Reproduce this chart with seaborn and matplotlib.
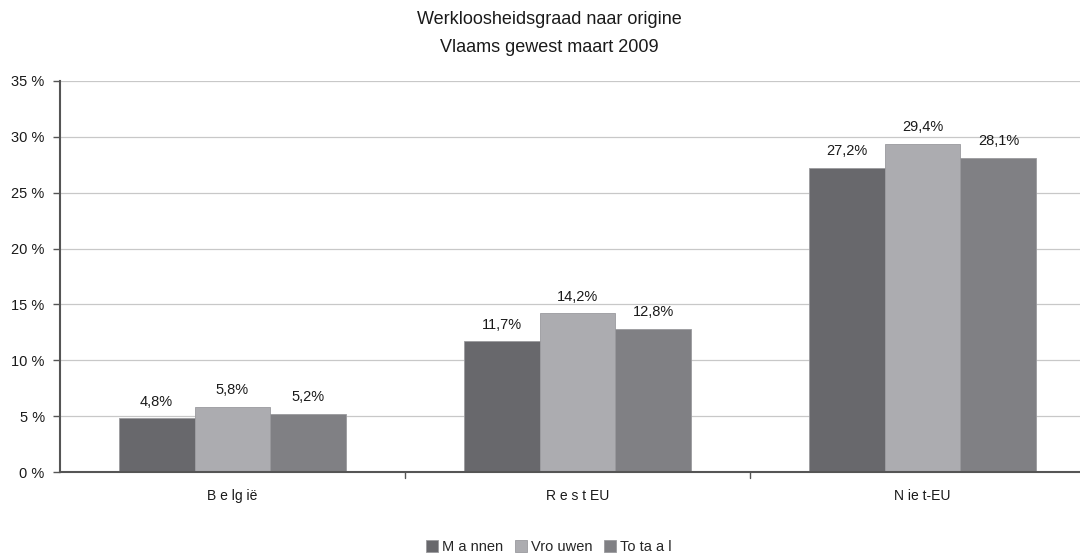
import matplotlib
matplotlib.use("Agg")
import matplotlib.pyplot as plt
import seaborn as sns
import pandas as pd

categories = ["België", "Rest EU", "Niet-EU"]
series = ["Mannen", "Vrouwen", "Totaal"]
mannen = [4.8, 11.7, 27.2]
vrouwen = [5.8, 14.2, 29.4]
totaal = [5.2, 12.8, 28.1]
yticks = [0, 5, 10, 15, 20, 25, 30, 35]

rows = []
for name, vals in zip(series, [mannen, vrouwen, totaal]):
    for c, v in zip(categories, vals):
        rows.append({"cat": c, "serie": name, "val": v})
df = pd.DataFrame(rows)

sns.set_theme(style="white")
plt.rcParams['font.family'] = ['Liberation Sans', 'DejaVu Sans']

fig = plt.figure(figsize=(10.8, 5.57), dpi=100)
ax = fig.add_axes([60/1080, 1 - 472/557, 1035/1080, (472 - 81)/557])

palette = {"Mannen": "#68686c", "Vrouwen": "#acacb0", "Totaal": "#808084"}
sns.barplot(data=df, x="cat", y="val", hue="serie", order=categories,
            hue_order=series, palette=palette, width=0.66, ax=ax,
            edgecolor="#9a9a9e", linewidth=0.6, saturation=1, legend=True)

ax.set_ylim(0, 35)
ax.set_xlim(-0.5, 2.5)
ax.set_yticks(yticks)
ax.set_yticklabels([f"{t} %" for t in yticks], fontsize=10.5, color="#1a1a1a")
ax.yaxis.grid(True, color="#c8c8c8", linewidth=0.9)
ax.set_axisbelow(True)
ax.set_xlabel("")
ax.set_ylabel("")
ax.set_xticks([0, 1, 2])
ax.set_xticklabels(["B e lg ië", "R e s t EU", "N ie t-EU"], fontsize=10, color="#1a1a1a")
ax.tick_params(axis="x", length=0, pad=12)
ax.tick_params(axis="y", length=5, width=1, color="#555555", left=True, pad=6)
for xs in [0.5, 1.5]:
    ax.plot([xs, xs], [0, -0.55], color="#555555", lw=1, clip_on=False)
for side in ["top", "right"]:
    ax.spines[side].set_visible(False)
for side in ["left", "bottom"]:
    ax.spines[side].set_color("#555555")
    ax.spines[side].set_linewidth(1.5)

for cont, vals in zip(ax.containers, [mannen, vrouwen, totaal]):
    ax.bar_label(cont, labels=[f"{v:.1f}%".replace(".", ",") for v in vals],
                 padding=7, fontsize=10.5, color="#1a1a1a")

h, l = ax.get_legend_handles_labels()
ax.legend(h, ["M a nnen", "Vro uwen", "To ta a l"], loc="center",
          bbox_to_anchor=(489/1035, -(547 - 472)/391), ncol=3, frameon=False,
          fontsize=10.5, handlelength=0.8, handleheight=0.8, handletextpad=0.3,
          columnspacing=0.8)

fig.text(549/1080, 1 - 19/557, "Werkloosheidsgraad naar origine", ha="center",
         va="center", fontsize=13, color="#1a1a1a")
fig.text(549/1080, 1 - 47/557, "Vlaams gewest maart 2009", ha="center",
         va="center", fontsize=13, color="#1a1a1a")

fig.savefig("out.png", dpi=100)
